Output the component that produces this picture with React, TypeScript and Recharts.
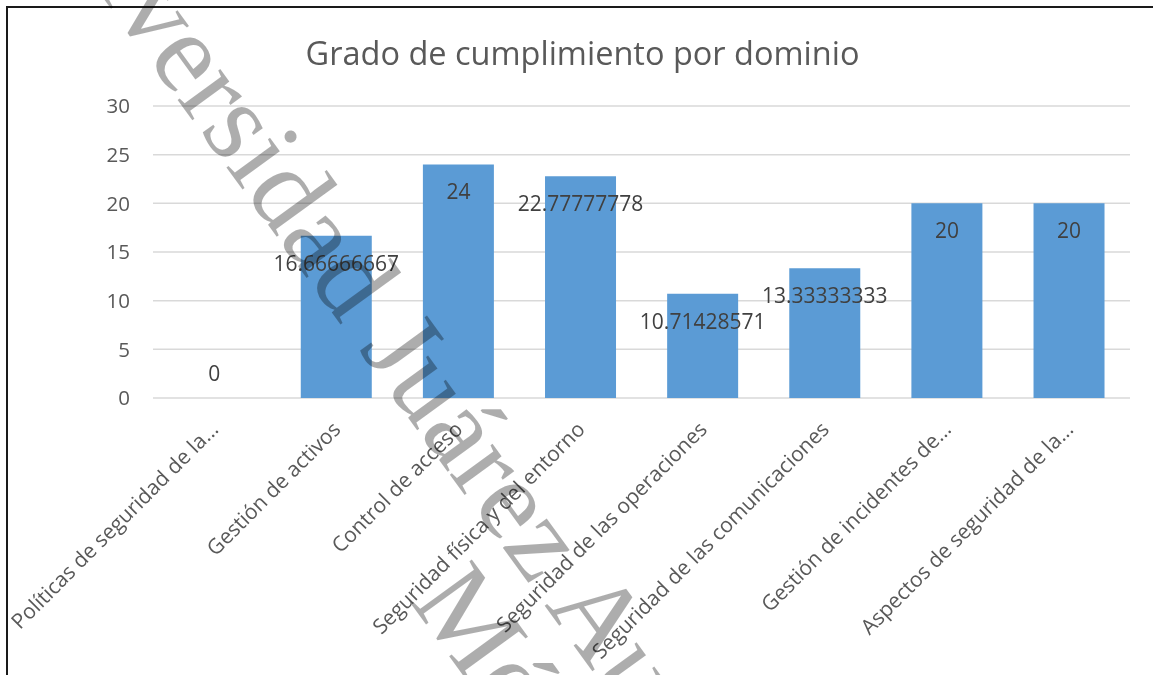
import { BarChart, Bar, XAxis, YAxis, CartesianGrid, LabelList } from 'recharts';

const categories = [
  'Políticas de seguridad de la...',
  'Gestión de activos',
  'Control de acceso',
  'Seguridad física y del entorno',
  'Seguridad de las operaciones',
  'Seguridad de las comunicaciones',
  'Gestión de incidentes de...',
  'Aspectos de seguridad de la...',
];
const values = [0, 16.66666667, 24, 22.77777778, 10.71428571, 13.33333333, 20, 20];
const yTicks = [0, 5, 10, 15, 20, 25, 30];

const title = 'Grado de cumplimiento por dominio';
const watermarkLines = ['Universidad Juárez Autónoma de Tabasco', 'México'];

const data = categories.map((name, i) => ({ name, value: values[i] }));

const FONT = '"Open Sans", sans-serif';

// category labels are rotated 45° with their end at the tick
function XTick({ x, y, payload }: any) {
  return (
    <text
      x={x}
      y={y}
      textAnchor="end"
      dominantBaseline="central"
      transform={`rotate(-45, ${x}, ${y})`}
      fontSize={21}
      fill="#595959"
      fontFamily={FONT}
    >
      {payload.value}
    </text>
  );
}

// inside-end labels; a zero bar gets its label above the axis
function ValueLabel({ x, y, width, value }: any) {
  const cx = Number(x) + Number(width) / 2;
  const ty = Number(value) !== 0 ? Number(y) + 27 : Number(y) - 25;
  return (
    <text x={cx} y={ty} textAnchor="middle" dominantBaseline="central" fontSize={21} fill="#404040" fontFamily={FONT}>
      {String(value)}
    </text>
  );
}

export default function App() {
  return (
    <div style={{ fontFamily: FONT }}>
      <div
        style={{
          position: 'fixed', left: 6, top: 6, width: 1300, height: 800,
          borderLeft: '2px solid #1a1a1a', borderTop: '2px solid #1a1a1a', background: '#fff',
        }}
      />
      <div style={{ position: 'fixed', left: 0, top: 0 }}>
        <BarChart
          width={1153}
          height={675}
          data={data}
          margin={{ top: 106, right: 23, bottom: 0, left: 0 }}
          barCategoryGap="21%"
        >
          <CartesianGrid vertical={false} stroke="#D9D9D9" strokeWidth={1.5} />
          <XAxis
            dataKey="name"
            interval={0}
            height={277}
            axisLine={false}
            tickLine={false}
            tickSize={0}
            tickMargin={27}
            tick={<XTick />}
          />
          <YAxis
            domain={[0, 30]}
            ticks={yTicks}
            width={153}
            axisLine={false}
            tickLine={false}
            tickSize={0}
            tickMargin={23}
            tick={{ fontSize: 20.5, fill: '#595959', fontFamily: FONT }}
          />
          <Bar dataKey="value" fill="#5B9BD5" minPointSize={0.01} isAnimationActive={false}>
            <LabelList dataKey="value" content={<ValueLabel />} />
          </Bar>
        </BarChart>
      </div>
      <svg
        width={1153}
        height={675}
        style={{ position: 'fixed', left: 0, top: 0, pointerEvents: 'none' }}
      >
        <text x={582.5} y={52} textAnchor="middle" dominantBaseline="central" fontSize={32.5} fill="#595959" fontFamily={FONT}>
          {title}
        </text>
        <text
          transform="translate(11,-129) rotate(54)"
          fontSize={115}
          fontFamily='"Liberation Serif", serif'
          fill="#000"
          fillOpacity={0.32}
        >
          {watermarkLines[0]}
        </text>
        <text
          transform="translate(409,601) rotate(54)"
          fontSize={115}
          fontFamily='"Liberation Serif", serif'
          fill="#000"
          fillOpacity={0.32}
        >
          {watermarkLines[1]}
        </text>
      </svg>
    </div>
  );
}
